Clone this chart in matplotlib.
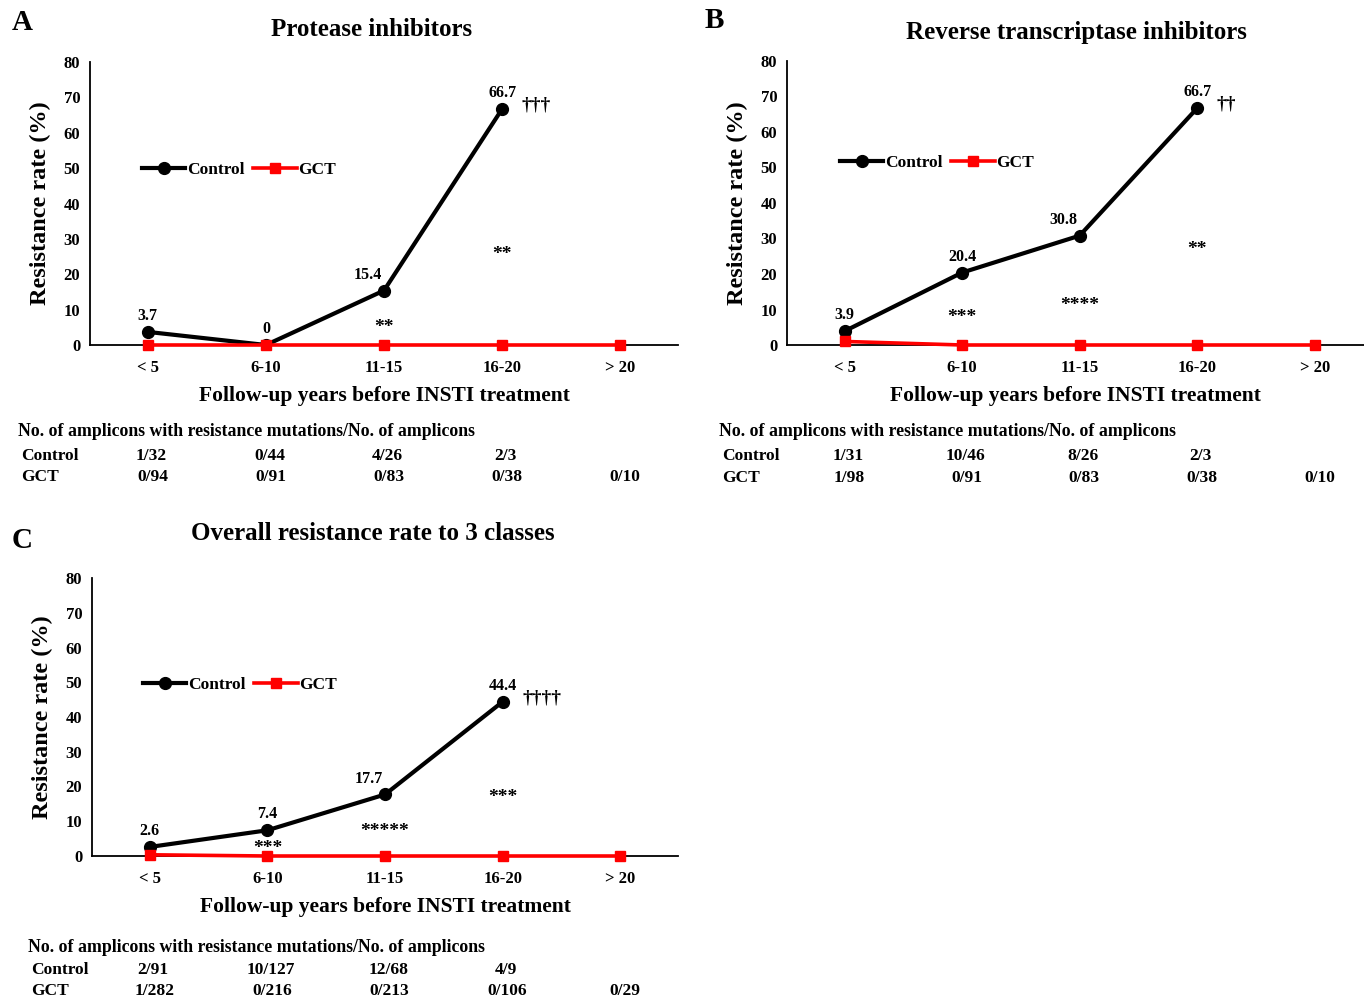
import matplotlib
matplotlib.use("Agg")
import matplotlib.pyplot as plt
from matplotlib.transforms import blended_transform_factory

plt.rcParams["font.family"] = ["Liberation Serif", "DejaVu Serif"]
plt.rcParams["font.weight"] = "bold"

W, H = 1364, 998

categories = ["< 5", "6-10", "11-15", "16-20", "> 20"]

# resistance rate (%)
pi_control = [3.7, 0, 15.4, 66.7]
pi_gct = [0, 0, 0, 0, 0]
rt_control = [3.9, 20.4, 30.8, 66.7]
rt_gct = [1.0, 0, 0, 0, 0]
all_control = [2.6, 7.4, 17.7, 44.4]
all_gct = [0.35, 0, 0, 0, 0]

# significance marks per category
pi_stars = ["", "", "**", "**", ""]
rt_stars = ["", "***", "****", "**", ""]
all_stars = ["", "***", "*****", "***", ""]
pi_dagger = "†††"
rt_dagger = "††"
all_dagger = "††††"

# amplicon counts
pi_tab_control = ["1/32", "0/44", "4/26", "2/3", ""]
pi_tab_gct = ["0/94", "0/91", "0/83", "0/38", "0/10"]
rt_tab_control = ["1/31", "10/46", "8/26", "2/3", ""]
rt_tab_gct = ["1/98", "0/91", "0/83", "0/38", "0/10"]
all_tab_control = ["2/91", "10/127", "12/68", "4/9", ""]
all_tab_gct = ["1/282", "0/216", "0/213", "0/106", "0/29"]

fig = plt.figure(figsize=(W / 100, H / 100), dpi=100)


def fx(x):
    return x / W


def fy(y):
    return 1 - y / H


def panel(box, xmax, control, gct, stars, star_y, dagger, title, title_xy,
          letter, letter_xy, legend_xy, tab_control, tab_gct, tab_x, tab_y):
    left, top, right, bottom = box
    ax = fig.add_axes([fx(left), fy(bottom), (right - left) / W, (bottom - top) / H])
    x = list(range(len(categories)))
    ax.plot(x[:len(control)], control, color="black", lw=3, marker="o", ms=8.5,
            label="Control", zorder=3)
    ax.plot(x, gct, color="red", lw=2.6, marker="s", ms=7, label="GCT", zorder=4,
            clip_on=False)
    ax.set_xlim(-0.49, xmax)
    ax.set_ylim(0, 80)
    ax.set_yticks(range(0, 81, 10))
    ax.set_xticks(x)
    ax.set_xticklabels(categories)
    ax.tick_params(length=0, labelsize=12, pad=7)
    ax.tick_params(axis="x", pad=11)
    for s in ["top", "right"]:
        ax.spines[s].set_visible(False)
    for s in ["left", "bottom"]:
        ax.spines[s].set_linewidth(1.3)
    ax.set_ylabel("Resistance rate (%)", fontsize=17.5, fontweight="bold", labelpad=9)
    ax.set_xlabel("Follow-up years before INSTI treatment", fontsize=15.5,
                  fontweight="bold", labelpad=7)

    # value labels
    for i, v in enumerate(control):
        dx = -12 if i == 2 else 0
        ax.annotate(f"{v:g}", (i, v), xytext=(dx, 11.5), textcoords="offset points",
                    ha="center", va="center", fontsize=11.5)
    for i, s in enumerate(stars):
        if s:
            ax.text(i, star_y[i] - 1.5, s, ha="center", va="center", fontsize=14)
    last = len(control) - 1
    ax.annotate(dagger, (last, control[last]), xytext=(14, 3), textcoords="offset points",
                ha="left", va="center", fontsize=14)

    ax.legend(loc="center left", bbox_to_anchor=(fx(legend_xy[0]), fy(legend_xy[1])),
              bbox_transform=fig.transFigure, ncol=2, frameon=False, fontsize=12.5,
              handlelength=2.5, handletextpad=0.1, columnspacing=0.5, borderpad=0,
              borderaxespad=0)

    fig.text(fx(title_xy[0]), fy(title_xy[1]), title, ha="center", va="center",
             fontsize=18, fontweight="bold")
    fig.text(fx(letter_xy[0]), fy(letter_xy[1]), letter, ha="center", va="center",
             fontsize=21, fontweight="bold")

    # amplicon table
    tx, (hy, cy, gy) = tab_x, tab_y
    fig.text(fx(tx - 3), fy(hy), "No. of amplicons with resistance mutations/No. of amplicons",
             ha="left", va="center", fontsize=12.8)
    fig.text(fx(tx), fy(cy), "Control", ha="left", va="center", fontsize=12.5)
    fig.text(fx(tx), fy(gy), "GCT", ha="left", va="center", fontsize=12.5)
    tr = blended_transform_factory(ax.transData, fig.transFigure)
    for i in x:
        fig.text(i + 0.03, fy(cy), tab_control[i], transform=tr, ha="center",
                 va="center", fontsize=12.5)
        fig.text(i + 0.04, fy(gy), tab_gct[i], transform=tr, ha="center",
                 va="center", fontsize=12.5)
    return ax


panel((90, 62, 678, 345), 4.49, pi_control, pi_gct, pi_stars,
      [0, 0, 6.5, 27.1, 0], pi_dagger, "Protease inhibitors", (372, 29),
      "A", (22, 22), (142, 170), pi_tab_control, pi_tab_gct, 21, (432, 456, 477))

panel((787, 61, 1364, 345), 4.42, rt_control, rt_gct, rt_stars,
      [0, 9.3, 12.7, 28.5, 0], rt_dagger, "Reverse transcriptase inhibitors", (1076, 32),
      "B", (714, 20), (840, 163), rt_tab_control, rt_tab_gct, 722, (432, 456, 478))

panel((92, 578, 678, 856), 4.49, all_control, all_gct, all_stars,
      [0, 3.7, 8.6, 18.4, 0], all_dagger, "Overall resistance rate to 3 classes", (373, 534),
      "C", (22, 540), (143, 685), all_tab_control, all_tab_gct, 31, (948, 970, 991))

fig.savefig("out.png", dpi=100)
